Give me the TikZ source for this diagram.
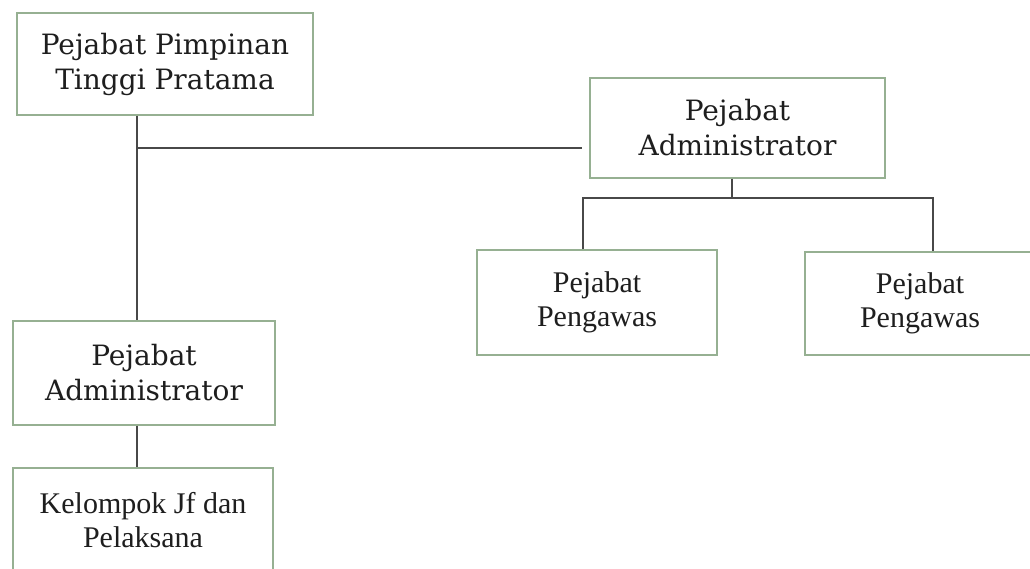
\documentclass[tikz,border=0pt]{standalone}
\usepackage{fontspec}
\setmainfont{Liberation Serif}
\newfontfamily\slabfont{DejaVu Serif}
\definecolor{boxgreen}{RGB}{150, 176, 146}
\definecolor{linegray}{RGB}{72, 72, 72}
\definecolor{inkgray}{RGB}{30, 30, 30}
\usetikzlibrary{calc, positioning}

\begin{document}
\begin{tikzpicture}[x=1pt, y=-1pt,
		box/.style={draw=boxgreen, line width=1.3pt, align=center, inner sep=0pt, text=inkgray},
		slabbox/.style={box, font=\slabfont\fontsize{28}{35}\selectfont},
		plainbox/.style={box, font=\fontsize{30}{34}\selectfont},
		link/.style={draw=linegray, line width=1.3pt}]
	
	\clip (0,0) rectangle (1030,568);
	\fill[white] (0,0) rectangle (1030,568);
	
	% Boxes
	\node[slabbox, minimum width=296pt, minimum height=102pt] (pimpinan) at (165,64) {Pejabat Pimpinan\\Tinggi Pratama};
	\node[slabbox, minimum width=295pt, minimum height=100pt] (adminkanan) at (737.5,128) {Pejabat\\Administrator};
	\node[plainbox, minimum width=240pt, minimum height=105pt] (pengawaskiri) at (597,302.5) {Pejabat\\Pengawas};
	\node[plainbox, minimum width=230pt, minimum height=103pt] (pengawaskanan) at (920,303.5) {Pejabat\\Pengawas};
	\node[slabbox, minimum width=262pt, minimum height=104pt] (adminkiri) at (144,373) {Pejabat\\Administrator};
	\node[plainbox, minimum width=260pt, minimum height=104pt] (kelompok) at (143,520) {Kelompok Jf dan\\Pelaksana};
	
	% Junctions
	\coordinate (jkiri) at (137,148);
	\coordinate (jtengah) at (732,198);
	\coordinate (cabangkiri) at (583,198);
	\coordinate (cabangkanan) at (933,198);
	
	% Lines
	\draw[link] (jkiri |- pimpinan.south) -- (jkiri |- adminkiri.north);
	\draw[link, shorten >=7pt] (jkiri) -- (jkiri -| adminkanan.west);
	\draw[link] (jkiri |- adminkiri.south) -- (jkiri |- kelompok.north);
	\draw[link] (jtengah |- adminkanan.south) -- (jtengah);
	\draw[link] (cabangkiri |- pengawaskiri.north) -- (cabangkiri) -- (cabangkanan) -- (cabangkanan |- pengawaskanan.north);
	
\end{tikzpicture}
\end{document}
